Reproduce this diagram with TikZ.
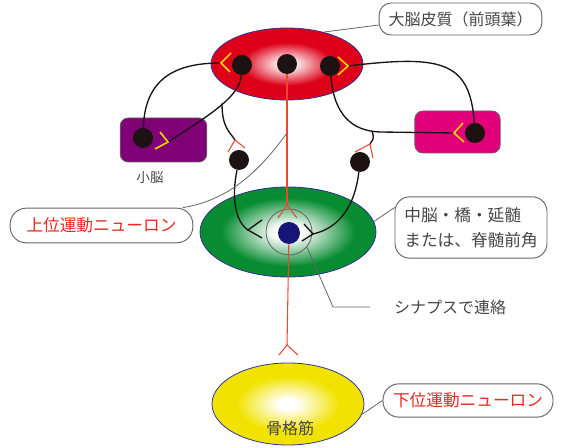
\documentclass[tikz,border=0pt]{standalone}
\usepackage{fontspec}
\setmainfont{Noto Sans CJK JP}
\usetikzlibrary{shapes.geometric,positioning}

\definecolor{cortexred}{RGB}{222,0,24}
\definecolor{stemgreen}{RGB}{8,140,50}
\definecolor{musyellow}{RGB}{242,226,0}
\definecolor{cblpurple}{RGB}{128,0,118}
\definecolor{bgmagenta}{RGB}{226,0,122}
\definecolor{rimblue}{RGB}{50,50,150}
\definecolor{somablack}{RGB}{28,18,18}
\definecolor{lmnblue}{RGB}{22,22,120}
\definecolor{synyellow}{RGB}{250,212,0}
\definecolor{motorred}{RGB}{236,72,46}
\definecolor{labelred}{RGB}{230,40,30}
\definecolor{txtgray}{RGB}{70,70,70}
\definecolor{boxgray}{RGB}{100,100,100}

\pgfdeclareradialshading{cortexglow}{\pgfpoint{0bp}{0bp}}%
  {color(0bp)=(white); color(2bp)=(white); color(15bp)=(cortexred); color(50bp)=(cortexred)}
\pgfdeclareradialshading{stemglow}{\pgfpoint{0bp}{0bp}}%
  {color(0bp)=(white); color(4bp)=(white); color(19bp)=(stemgreen); color(50bp)=(stemgreen)}
\pgfdeclareradialshading{musglow}{\pgfpoint{0bp}{0bp}}%
  {color(0bp)=(white); color(3bp)=(white); color(17bp)=(musyellow); color(50bp)=(musyellow)}

\tikzset{
  soma/.style={shape=circle, fill=somablack, minimum size=15pt, inner sep=0pt},
  region/.style={shape=ellipse, draw=rimblue, line width=0.6pt, inner sep=0pt, shade},
  organ/.style={shape=rectangle, rounded corners=6pt, draw=boxgray, line width=0.6pt},
  txt/.style={text=txtgray, font=\fontsize{12}{15}\selectfont, inner sep=0pt},
  callout/.style={shape=rectangle, rounded corners=9pt, draw=boxgray, line width=0.7pt,
                  fill=white, text=txtgray, font=\fontsize{12}{15}\selectfont, inner sep=0pt},
  neuronlbl/.style={callout, rounded corners=12pt, text=labelred, font=\fontsize{12.5}{15}\selectfont},
  axon/.style={draw=somablack, line width=1pt},
  leader/.style={draw=boxgray, line width=0.6pt},
  yelsyn/.style={draw=synyellow, line width=1.2pt},
  redsyn/.style={draw=motorred, line width=0.8pt}
}

\begin{document}
\begin{tikzpicture}[x=0.75pt, y=-0.75pt]
  \useasboundingbox (0,0) rectangle (561,448);

  % brain regions and muscle
  \node[region, shading=cortexglow, minimum width=114pt, minimum height=54pt] (Ctx)
       at (287,64) {};
  \node[region, shading=stemglow, minimum width=132pt, minimum height=67.5pt] (Stem)
       at (288,232) {};
  \node[region, shading=musglow, minimum width=114pt, minimum height=61.5pt] (Mus)
       at (288,404) {};
  \node[txt] (MusTxt) at (290,428) {骨格筋};

  \node[organ, fill=cblpurple, minimum width=65pt, minimum height=33pt] (Cbl)
       at (163.5,140) {};
  \node[organ, fill=bgmagenta, minimum width=64pt, minimum height=31.5pt] (Bg)
       at (457.5,132) {};
  \node[txt, font=\fontsize{10}{12}\selectfont] (CblTxt) at (150,178) {小脳};

  % cell bodies
  \node[soma] (CtxL) at (242,65) {};
  \node[soma] (CtxC) at (287,64) {};
  \node[soma] (CtxR) at (330,66) {};
  \node[soma] (CblN) at (143,138) {};
  \node[soma] (BgN)  at (475,133) {};
  \node[soma] (PmL)  at (239,160) {};
  \node[soma] (PmR)  at (360,162) {};
  \node[shape=circle, draw=boxgray, line width=0.6pt, minimum size=34.5pt, inner sep=0pt] (SynRing)
       at (289,232) {};
  \node[shape=circle, fill=lmnblue, minimum size=16.5pt, inner sep=0pt] (Lmn) at (289,233) {};

  % synapse points
  \coordinate (sCtxL)  at (221,63);
  \coordinate (sCtxR)  at (348,66);
  \coordinate (sCbl)   at (168,142);
  \coordinate (sBg)    at (454,133);
  \coordinate (sPmL)   at (235,140);
  \coordinate (sPmR)   at (370,144);
  \coordinate (sStemL) at (248,230);
  \coordinate (sStemR) at (313,234);
  \coordinate (sLmn)   at (287,205);
  \coordinate (sMus)   at (287,345);
  \coordinate (brL)    at (222,103.5);
  \coordinate (brR)    at (372,131);

  % loops through cerebellum and basal ganglia
  \draw[axon] (CblN) .. controls (145,75) and (180,63) .. (sCtxL);
  \draw[axon] (CtxL) .. controls (240,95) and (215,112) .. (sCbl);
  \draw[axon] (brL) .. controls (222,128) and (230,132) .. (sPmL);
  \draw[axon] (PmL) .. controls (231,200) and (236,222) .. (sStemL);
  \draw[axon] (BgN) .. controls (470,60) and (440,55) .. (sCtxR);
  \draw[axon] (CtxR) .. controls (334,115) and (352,131) .. (380,132) -- (sBg);
  \draw[axon] (brR) .. controls (374,138) .. (sPmR);
  \draw[axon] (PmR) .. controls (355,205) and (340,228) .. (sStemR);

  \draw[yelsyn] ([shift={(10,-10)}]sCtxL) -- (sCtxL) -- ([shift={(9,9)}]sCtxL);
  \draw[yelsyn] ([shift={(-10,-9)}]sCtxR) -- (sCtxR) -- ([shift={(-10,9)}]sCtxR);
  \draw[yelsyn] ([shift={(-8,-10)}]sCbl) -- (sCbl) -- ([shift={(-13,7)}]sCbl);
  \draw[yelsyn] ([shift={(9,-10)}]sBg) -- (sBg) -- ([shift={(10,9)}]sBg);
  \draw[redsyn] ([shift={(-7,12)}]sPmL) -- (sPmL) -- ([shift={(10,8)}]sPmL);
  \draw[redsyn] ([shift={(-15,8)}]sPmR) -- (sPmR) -- ([shift={(3,14)}]sPmR);
  \draw[axon] ([shift={(14,-10)}]sStemL) -- (sStemL) -- ([shift={(14,8)}]sStemL);
  \draw[axon] ([shift={(-9,-10)}]sStemR) -- (sStemR) -- ([shift={(-11,7)}]sStemR);

  % upper and lower motor neurons
  \draw[redsyn] (CtxC) -- (sLmn);
  \draw[redsyn] ([shift={(-9,13)}]sLmn) -- (sLmn) -- ([shift={(10,13)}]sLmn);
  \draw[redsyn] (Lmn) -- (sMus);
  \draw[redsyn] ([shift={(-8,10)}]sMus) -- (sMus) -- ([shift={(11,10)}]sMus);

  % callouts
  \node[callout, minimum width=122pt, minimum height=24pt] (CtxLbl) at (460.5,19)
       {大脳皮質（前頭葉）};
  \node[neuronlbl, minimum width=137pt, minimum height=26pt] (UmnLbl) at (101.5,225.5)
       {上位運動ニューロン};
  \node[callout, rounded corners=11pt, minimum width=114pt, minimum height=46pt, align=left,
        font=\fontsize{12.5}{19}\selectfont] (MidLbl) at (471,227.5)
       {中脳・橋・延髄\\または、脊髄前角};
  \node[neuronlbl, minimum width=127.5pt, minimum height=25pt] (LmnLbl) at (468,400.5)
       {下位運動ニューロン};
  \node[txt] (SynTxt) at (450,307) {シナプスで連絡};

  \coordinate (pUmn) at (287,133);
  \coordinate (kSyn) at (333,307);
  \draw[leader] ([yshift=-4.5pt]CtxLbl.west) -- (Ctx.41);
  \draw[leader] ([xshift=-8pt]UmnLbl.north east) .. controls (230,200) and (260,170) .. (pUmn);
  \draw[leader] ([yshift=15pt]MidLbl.west) -- (Stem.7);
  \draw[leader] (SynRing.-40) -- (kSyn) -- ++(37,0);
  \draw[leader] (LmnLbl.west) -- (Mus.-8);
\end{tikzpicture}
\end{document}
